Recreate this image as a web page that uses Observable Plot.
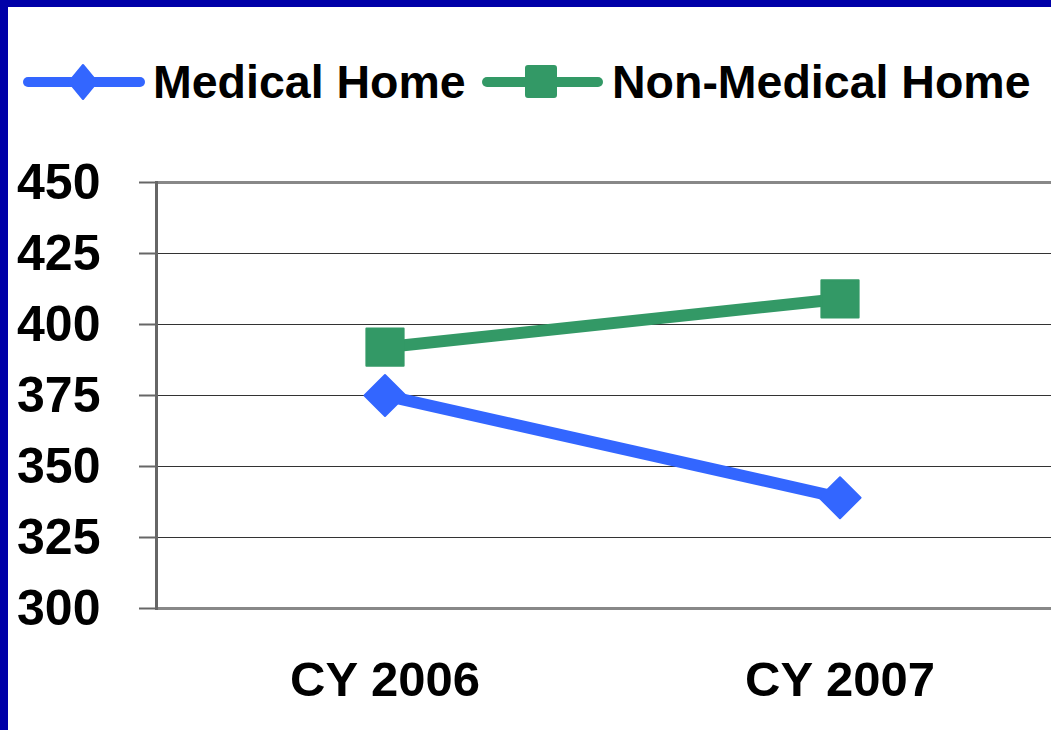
<!DOCTYPE html>
<html>
<head>
<meta charset="utf-8">
<script src="https://cdn.jsdelivr.net/npm/d3@7"></script>
<script src="https://cdn.jsdelivr.net/npm/@observablehq/plot@0.6"></script>
<style>
  html, body { margin: 0; padding: 0; width: 1051px; height: 730px; overflow: hidden; background: #0000A8; }
  #wrap { position: relative; width: 1051px; height: 730px; overflow: hidden; }
  #panel { position: absolute; left: 8px; top: 7px; width: 1043px; height: 723px; background: #fff; }
  #legend { position: absolute; left: 0; top: 0; }
  #chart { position: absolute; left: 0; top: 120px; width: 1051px; height: 610px; overflow: hidden; }
  #chart svg { max-width: none !important; }
  text { font-family: "Liberation Sans", Arial, sans-serif; }
</style>
</head>
<body>
<div id="wrap">
<div id="panel"></div>
<svg id="legend" width="1051" height="120"></svg>
<div id="chart"></div>
</div>
<script>
const years = ["CY 2006", "CY 2007"];
const seriesNames = ["Medical Home", "Non-Medical Home"];
const medicalHome = [375, 339];
const nonMedicalHome = [392, 409];
const yTicks = [300, 325, 350, 375, 400, 425, 450];
const colors = ["#3366FF", "#339966"];

const data = [
  ...years.map((y, i) => ({year: y, value: medicalHome[i], series: seriesNames[0]})),
  ...years.map((y, i) => ({year: y, value: nonMedicalHome[i], series: seriesNames[1]}))
];

const font = '"Liberation Sans", Arial, sans-serif';

const chart = Plot.plot({
  width: 1067,
  height: 610,
  marginLeft: 156,
  marginRight: 0,
  marginTop: 62,
  marginBottom: 122,
  style: {fontFamily: font, background: "transparent", overflow: "visible", maxWidth: "none"},
  x: {type: "band", domain: years, padding: 0, label: null},
  y: {domain: [300, 450], label: null},
  color: {domain: seriesNames, range: colors},
  marks: [
    Plot.ruleY(yTicks.filter(t => t !== 300 && t !== 450), {stroke: "#333", strokeWidth: 1.2}),
    Plot.ruleY([450, 300], {stroke: "#888", strokeWidth: 3}),
    Plot.frame({anchor: "left", stroke: "#666", strokeWidth: 3}),
    Plot.axisY({ticks: yTicks, tickSize: 17, tickPadding: 39, tickFormat: d => String(d),
      fontSize: 50, fontWeight: "bold", fill: "#000", stroke: "#666", strokeWidth: 2, strokeOpacity: 1}),
    Plot.axisX({tickSize: 0, tickPadding: 53, fontSize: 49, fontWeight: "bold", fill: "#000"}),
    Plot.line(data, {x: "year", y: "value", z: "series", stroke: "series", strokeWidth: 12, strokeLinecap: "butt"}),
    Plot.dot(data.filter(d => d.series === seriesNames[0]), {x: "year", y: "value", symbol: "diamond2", r: 18.5, fill: colors[0], stroke: colors[0], strokeWidth: 2, strokeLinejoin: "round"}),
    Plot.dot(data.filter(d => d.series === seriesNames[1]), {x: "year", y: "value", symbol: "square", r: 21, fill: colors[1], stroke: colors[1], strokeWidth: 2, strokeLinejoin: "round"})
  ]
});
document.getElementById("chart").appendChild(chart);

// Legend
const lg = d3.select("#legend");
const items = [
  {name: seriesNames[0], color: colors[0], x0: 28, x1: 140, mx: 83, textX: 153, shape: "diamond"},
  {name: seriesNames[1], color: colors[1], x0: 487, x1: 598, mx: 541, textX: 612, shape: "square"}
];
const cy = 82;
items.forEach(it => {
  lg.append("line").attr("x1", it.x0).attr("x2", it.x1).attr("y1", cy).attr("y2", cy)
    .attr("stroke", it.color).attr("stroke-width", 10).attr("stroke-linecap", "round");
  if (it.shape === "diamond") {
    lg.append("path").attr("d", `M${it.mx},${cy-17} L${it.mx+14},${cy} L${it.mx},${cy+17} L${it.mx-14},${cy} Z`)
      .attr("fill", it.color).attr("stroke", it.color).attr("stroke-width", 2).attr("stroke-linejoin", "round");
  } else {
    lg.append("rect").attr("x", it.mx - 15).attr("y", cy - 16).attr("width", 30).attr("height", 31)
      .attr("rx", 2).attr("fill", it.color).attr("stroke", it.color).attr("stroke-width", 2);
  }
  lg.append("text").attr("x", it.textX).attr("y", cy + 16).attr("font-size", 46.5).attr("font-weight", "bold")
    .attr("fill", "#000").style("font-family", font).text(it.name);
});
</script>
</body>
</html>
